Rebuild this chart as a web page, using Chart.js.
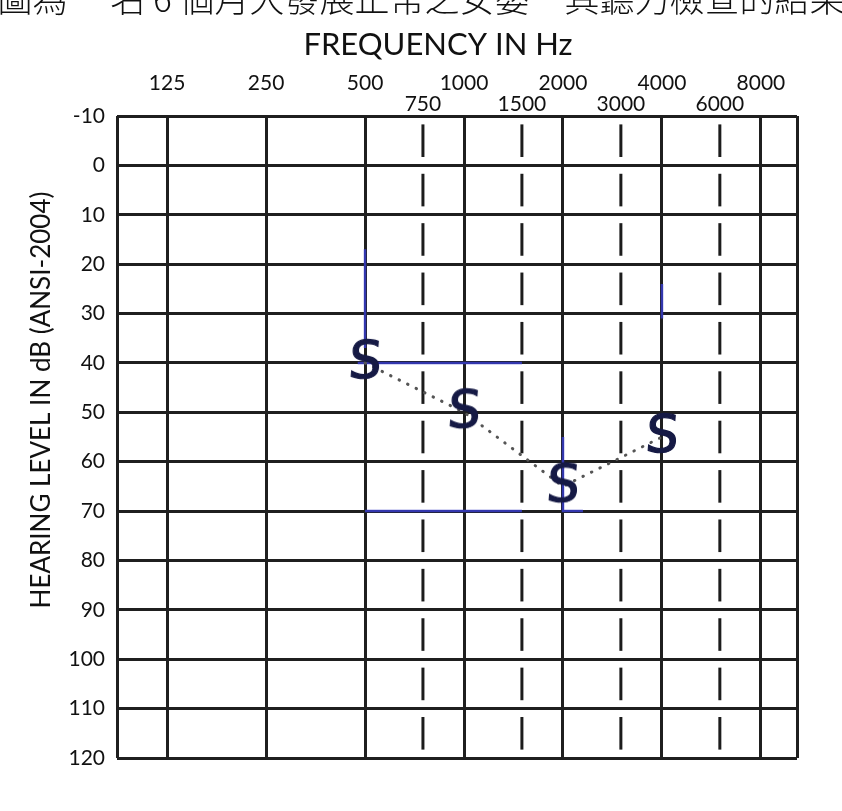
<!DOCTYPE html>
<html>
<head>
<meta charset="utf-8">
<script src="https://cdn.jsdelivr.net/npm/chart.js@4.4.1/dist/chart.umd.min.js"></script>
<style>
  html, body { margin: 0; padding: 0; background: #fff; }
  #wrap { width: 842px; height: 811px; }
</style>
</head>
<body>
<div id="wrap"><canvas id="audiogram" width="842" height="811"></canvas></div>
<script>
// frequency axis (Hz)
const octaveFreqs = [125, 250, 500, 1000, 2000, 4000, 8000];
const midFreqs = [750, 1500, 3000, 6000];
const freqMin = 88;
const freqMax = 10300;

// hearing level axis (dB)
const levelMin = -10;
const levelMax = 120;
const levelStep = 10;

// soundfield responses, marked "S"
const sfFreqs = [500, 1000, 2000, 4000];
const sfLevels = [40, 50, 65, 55];

// blue pen marks on the form
const blue500Freqs = [500, 500];
const blue500Levels = [17, 37];
const blue40Freqs = [475, 1500];
const blue40Levels = [40, 40];
const blue70Freqs = [500, 1500];
const blue70Levels = [70, 70];
const blue2kFreqs = [2000, 2000, 2300];
const blue2kLevels = [55, 70, 70];
const blue4kFreqs = [4000, 4000];
const blue4kLevels = [24, 31];

const topNote = '圖為 一名 6 個月大發展正常之女嬰　其聽力檢查的結果';
const xTitle = 'FREQUENCY IN Hz';
const yTitle = 'HEARING LEVEL IN dB (ANSI-2004)';

const pts = (xs, ys) => xs.map((x, i) => ({ x: x, y: ys[i] }));

// hand-drawn looking "S" used as the point marker
function makeS() {
    const c = document.createElement('canvas');
    c.width = 48;
    c.height = 54;
    const g = c.getContext('2d');
    g.fillStyle = '#161a45';
    g.strokeStyle = '#161a45';
    g.lineWidth = 1.2;
    g.font = '52px "DejaVu Sans"';
    g.textAlign = 'center';
    g.textBaseline = 'middle';
    g.translate(24, 28);
    g.transform(1, 0, -0.08, 1, 0, 0);
    g.fillText('S', 0, 0);
    g.strokeText('S', 0, 0);
    return c;
}

const blueLine = (xs, ys) => ({
    type: 'line',
    data: pts(xs, ys),
    borderColor: 'rgba(55, 60, 200, 0.85)',
    borderWidth: 2.5,
    pointRadius: 0,
    fill: false
});

// dashed lines for the half-octave frequencies, one dash per row
const midLines = {
    id: 'midLines',
    beforeDatasetsDraw(chart) {
        const { ctx, scales: { x, y } } = chart;
        ctx.save();
        ctx.strokeStyle = '#1c1c1c';
        ctx.lineWidth = 3;
        midFreqs.forEach(f => {
            const px = x.getPixelForValue(f);
            for (let v = levelMin; v < levelMax; v += levelStep) {
                const y0 = y.getPixelForValue(v);
                const y1 = y.getPixelForValue(v + levelStep);
                const gap = (y1 - y0) * 0.17;
                ctx.beginPath();
                ctx.moveTo(px, y0 + gap);
                ctx.lineTo(px, y1 - gap);
                ctx.stroke();
            }
        });
        ctx.restore();
    }
};

// titles
const notes = {
    id: 'notes',
    afterDraw(chart) {
        const ctx = chart.ctx;
        ctx.save();
        ctx.fillStyle = '#111';
        ctx.textAlign = 'center';
        ctx.font = '300 35px "Noto Sans CJK TC"';
        ctx.textBaseline = 'ideographic';
        ctx.fillText(topNote, 421, 16);
        ctx.font = '31px Lato';
        ctx.textBaseline = 'alphabetic';
        ctx.fillText(xTitle, 438, 55);
        ctx.translate(50, 400);
        ctx.rotate(-Math.PI / 2);
        ctx.font = '26px Lato';
        ctx.fillText(yTitle, 0, 0);
        ctx.restore();
    }
};

const tickFont = { family: 'Lato', size: 21, lineHeight: 1.0 };

new Chart(document.getElementById('audiogram'), {
    type: 'line',
    data: {
        datasets: [
            {
                data: pts(sfFreqs, sfLevels),
                borderColor: '#555',
                borderWidth: 3,
                borderDash: [0.5, 9],
                borderCapStyle: 'round',
                pointStyle: makeS(),
                pointRadius: 6,
                fill: false
            },
            blueLine(blue500Freqs, blue500Levels),
            blueLine(blue40Freqs, blue40Levels),
            blueLine(blue70Freqs, blue70Levels),
            blueLine(blue2kFreqs, blue2kLevels),
            blueLine(blue4kFreqs, blue4kLevels)
        ]
    },
    options: {
        responsive: false,
        animation: false,
        devicePixelRatio: 1,
        layout: { padding: { top: 0, left: 0, right: 45, bottom: 53 } },
        plugins: {
            legend: { display: false },
            tooltip: { enabled: false }
        },
        scales: {
            x: {
                type: 'logarithmic',
                position: 'top',
                min: freqMin,
                max: freqMax,
                afterBuildTicks: (scale) => {
                    scale.ticks = [freqMin, ...octaveFreqs, ...midFreqs, freqMax]
                        .sort((a, b) => a - b)
                        .map(v => ({ value: v }));
                },
                afterFit: (scale) => { scale.height = 116; },
                ticks: {
                    autoSkip: false,
                    maxRotation: 0,
                    minRotation: 0,
                    padding: 1,
                    color: '#111',
                    font: tickFont,
                    callback: (v) => {
                        if (octaveFreqs.includes(v)) return [String(v), ''];
                        if (midFreqs.includes(v)) return ['', String(v)];
                        return '';
                    }
                },
                grid: {
                    color: (c) => (c.tick && midFreqs.includes(c.tick.value)) ? 'rgba(0,0,0,0)' : '#1f1f1f',
                    lineWidth: 3,
                    drawTicks: false
                },
                border: { display: false }
            },
            y: {
                type: 'linear',
                reverse: true,
                min: levelMin,
                max: levelMax,
                afterFit: (scale) => { scale.width = 117; },
                ticks: {
                    stepSize: levelStep,
                    padding: 12,
                    color: '#111',
                    font: tickFont
                },
                grid: { color: '#1f1f1f', lineWidth: 3, drawTicks: false },
                border: { display: false }
            }
        }
    },
    plugins: [midLines, notes]
});
</script>
</body>
</html>
